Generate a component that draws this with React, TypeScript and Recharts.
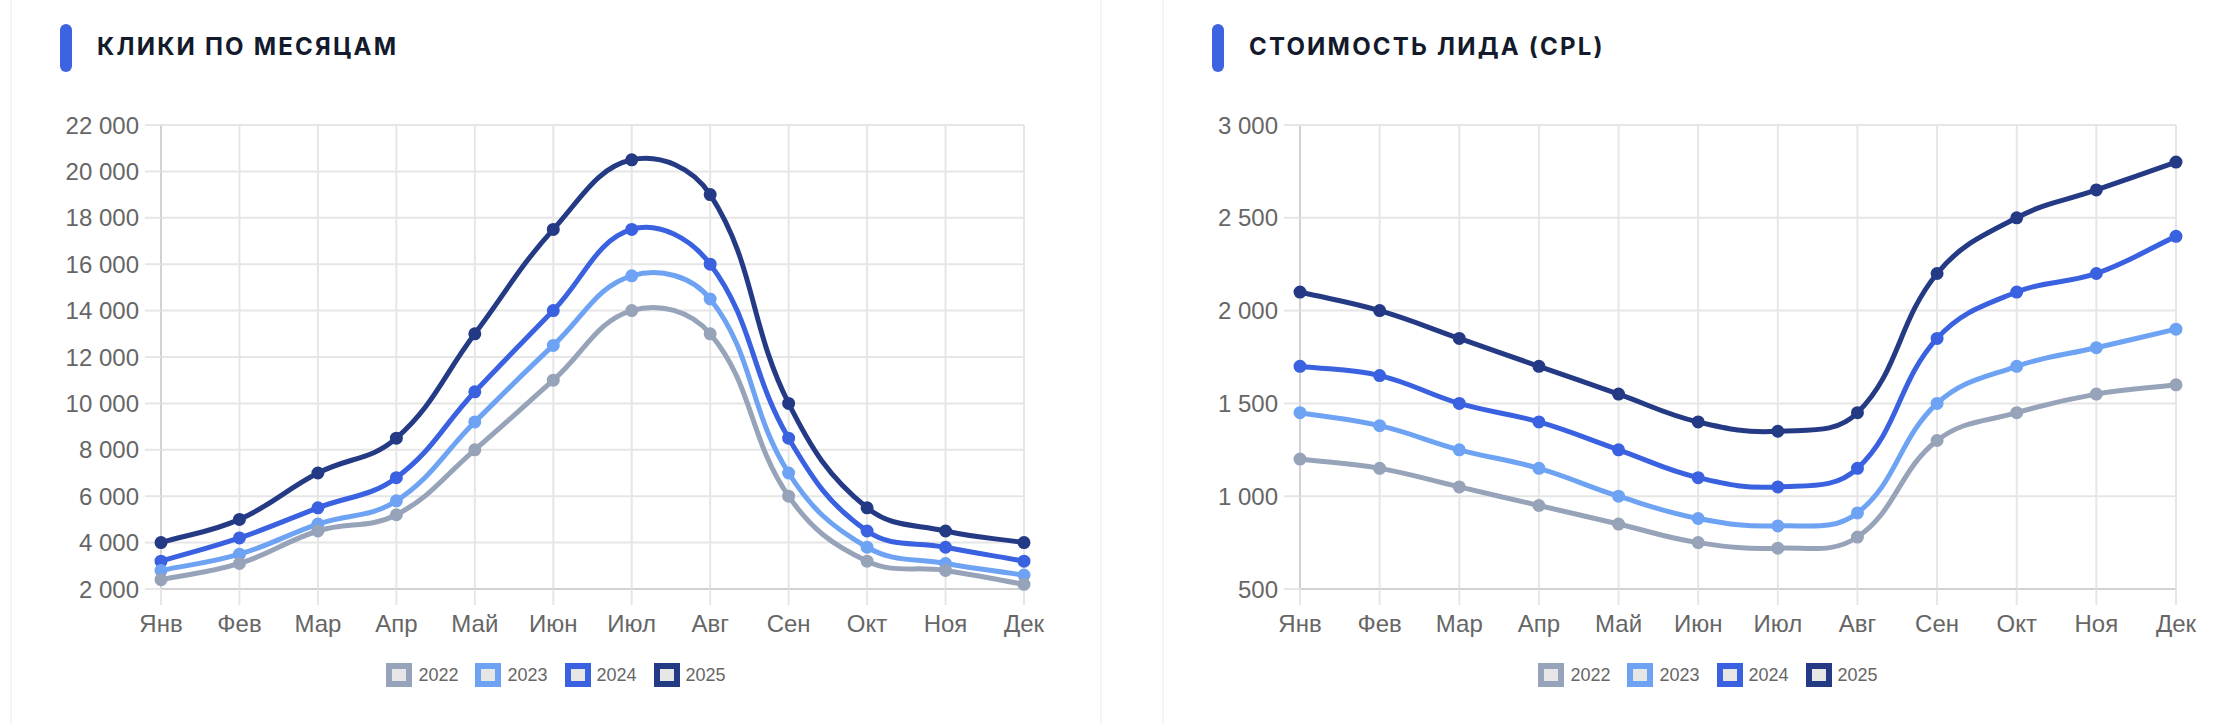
import React from 'react';
import { LineChart, Line, XAxis, YAxis, CartesianGrid } from 'recharts';

const months = ['Янв', 'Фев', 'Мар', 'Апр', 'Май', 'Июн', 'Июл', 'Авг', 'Сен', 'Окт', 'Ноя', 'Дек'];
const years = ['2022', '2023', '2024', '2025'];
const colors = ['#97a3b8', '#6ea3f4', '#3a62e0', '#243a85'];

const clicks2022 = [2400, 3100, 4500, 5200, 8000, 11000, 14000, 13000, 6000, 3200, 2800, 2200];
const clicks2023 = [2800, 3500, 4800, 5800, 9200, 12500, 15500, 14500, 7000, 3800, 3100, 2600];
const clicks2024 = [3200, 4200, 5500, 6800, 10500, 14000, 17500, 16000, 8500, 4500, 3800, 3200];
const clicks2025 = [4000, 5000, 7000, 8500, 13000, 17500, 20500, 19000, 10000, 5500, 4500, 4000];

const cpl2022 = [1200, 1150, 1050, 950, 850, 750, 720, 780, 1300, 1450, 1550, 1600];
const cpl2023 = [1450, 1380, 1250, 1150, 1000, 880, 840, 910, 1500, 1700, 1800, 1900];
const cpl2024 = [1700, 1650, 1500, 1400, 1250, 1100, 1050, 1150, 1850, 2100, 2200, 2400];
const cpl2025 = [2100, 2000, 1850, 1700, 1550, 1400, 1350, 1450, 2200, 2500, 2650, 2800];

const clicksTicks = [2000, 4000, 6000, 8000, 10000, 12000, 14000, 16000, 18000, 20000, 22000];
const cplTicks = [500, 1000, 1500, 2000, 2500, 3000];

const clicksTitle = 'КЛИКИ ПО МЕСЯЦАМ';
const cplTitle = 'СТОИМОСТЬ ЛИДА (CPL)';

const buildRows = (series: number[][]) =>
  months.map((m, i) => {
    const row: Record<string, string | number> = { month: m };
    years.forEach((y, k) => {
      row['y' + y] = series[k][i];
    });
    return row;
  });

const clicksData = buildRows([clicks2022, clicks2023, clicks2024, clicks2025]);
const cplData = buildRows([cpl2022, cpl2023, cpl2024, cpl2025]);

const fmt = (v: number) => String(v).replace(/\B(?=(\d{3})+(?!\d))/g, '\u00a0');

const FONT = "'Liberation Sans', Arial, Helvetica, sans-serif";

// Chart.js-style bezier spline (tension 0.4) as a d3 curve factory
function chartJsCurve(context: any) {
  let xs: number[] = [];
  let ys: number[] = [];
  return {
    areaStart() {},
    areaEnd() {},
    lineStart() {
      xs = [];
      ys = [];
    },
    point(x: number, y: number) {
      xs.push(+x);
      ys.push(+y);
    },
    lineEnd() {
      const n = xs.length;
      if (!n) return;
      const T = 0.4;
      const cpPrev: number[][] = [];
      const cpNext: number[][] = [];
      for (let i = 0; i < n; i++) {
        const pi = i > 0 ? i - 1 : 0;
        const ni = Math.min(i + 1, n - 1);
        const d01 = Math.hypot(xs[i] - xs[pi], ys[i] - ys[pi]);
        const d12 = Math.hypot(xs[ni] - xs[i], ys[ni] - ys[i]);
        let s01 = d01 / (d01 + d12);
        let s12 = d12 / (d01 + d12);
        if (isNaN(s01)) s01 = 0;
        if (isNaN(s12)) s12 = 0;
        const fa = T * s01;
        const fb = T * s12;
        const dx = xs[ni] - xs[pi];
        const dy = ys[ni] - ys[pi];
        cpPrev.push([xs[i] - fa * dx, ys[i] - fa * dy]);
        cpNext.push([xs[i] + fb * dx, ys[i] + fb * dy]);
      }
      context.moveTo(xs[0], ys[0]);
      for (let i = 1; i < n; i++) {
        context.bezierCurveTo(cpNext[i - 1][0], cpNext[i - 1][1], cpPrev[i][0], cpPrev[i][1], xs[i], ys[i]);
      }
    },
  };
}

type CardProps = {
  left: number;
  title: string;
  data: any[];
  ticks: number[];
  yWidth: number;
};

function Card({ left, title, data, ticks, yWidth }: CardProps) {
  const order = [3, 2, 1, 0];
  return (
    <>
      <div
        style={{
          position: 'absolute',
          left: left - 1,
          top: -40,
          width: 1092,
          height: 860,
          border: '2px solid #f4f4f5',
          boxSizing: 'border-box',
          borderRadius: 16,
        }}
      />
      <div style={{ position: 'absolute', left, top: 0, width: 1090, height: 724 }}>
        <div
          style={{
            position: 'absolute',
            left: 49,
            top: 24,
            width: 12,
            height: 48,
            borderRadius: 6,
            background: '#3b63e2',
          }}
        />
        <div
          style={{
            position: 'absolute',
            left: 86,
            top: 23,
            height: 48,
            lineHeight: '48px',
            fontFamily: "Inter, 'Liberation Sans', Arial, sans-serif",
            fontWeight: 700,
            fontSize: 24,
            letterSpacing: 2.2,
            color: '#131a2b',
            whiteSpace: 'nowrap',
          }}
        >
          {title}
        </div>
        <div style={{ position: 'absolute', left: 0, top: 0 }}>
          <LineChart width={1090} height={724} data={data} margin={{ top: 125, right: 77, bottom: 95, left: 0 }}>
            <CartesianGrid stroke="#e6e6e6" strokeWidth={2} />
            <XAxis
              dataKey="month"
              interval={0}
              height={40}
              tickSize={16}
              tickMargin={10}
              axisLine={{ stroke: '#d2d2d2', strokeWidth: 2 }}
              tickLine={{ stroke: '#e6e6e6', strokeWidth: 2 }}
              tick={{ fill: '#666666', fontSize: 24, fontFamily: FONT }}
            />
            <YAxis
              type="number"
              width={yWidth}
              domain={[ticks[0], ticks[ticks.length - 1]]}
              ticks={ticks}
              interval={0}
              tickSize={16}
              tickMargin={6}
              tickFormatter={fmt}
              axisLine={{ stroke: '#d2d2d2', strokeWidth: 2 }}
              tickLine={{ stroke: '#e6e6e6', strokeWidth: 2 }}
              tick={{ fill: '#666666', fontSize: 24, fontFamily: FONT }}
            />
            {order.map((k) => (
              <Line
                key={years[k]}
                type={chartJsCurve as any}
                dataKey={'y' + years[k]}
                stroke={colors[k]}
                strokeWidth={5}
                dot={{ r: 5.5, fill: colors[k], stroke: colors[k], strokeWidth: 2 }}
                activeDot={false}
                isAnimationActive={false}
              />
            ))}
          </LineChart>
        </div>
        <div
          style={{
            position: 'absolute',
            left: 0,
            top: 663,
            width: 1090,
            display: 'flex',
            justifyContent: 'center',
            alignItems: 'center',
            fontFamily: FONT,
            fontSize: 18,
            color: '#666666',
          }}
        >
          {years.map((y, k) => (
            <div key={y} style={{ display: 'flex', alignItems: 'center', marginRight: k < years.length - 1 ? 17 : 0 }}>
              <div
                style={{
                  width: 26,
                  height: 24,
                  boxSizing: 'border-box',
                  border: `6px solid ${colors[k]}`,
                  background: '#e6e6e6',
                  marginRight: 6,
                }}
              />
              <span style={{ lineHeight: '24px' }}>{y}</span>
            </div>
          ))}
        </div>
      </div>
    </>
  );
}

export default function App() {
  return (
    <div
      style={{
        position: 'absolute',
        left: 0,
        top: 0,
        width: 2224,
        height: 724,
        overflow: 'hidden',
        background: '#ffffff',
      }}
    >
      <Card left={11} title={clicksTitle} data={clicksData} ticks={clicksTicks} yWidth={150} />
      <Card left={1163} title={cplTitle} data={cplData} ticks={cplTicks} yWidth={137} />
    </div>
  );
}
